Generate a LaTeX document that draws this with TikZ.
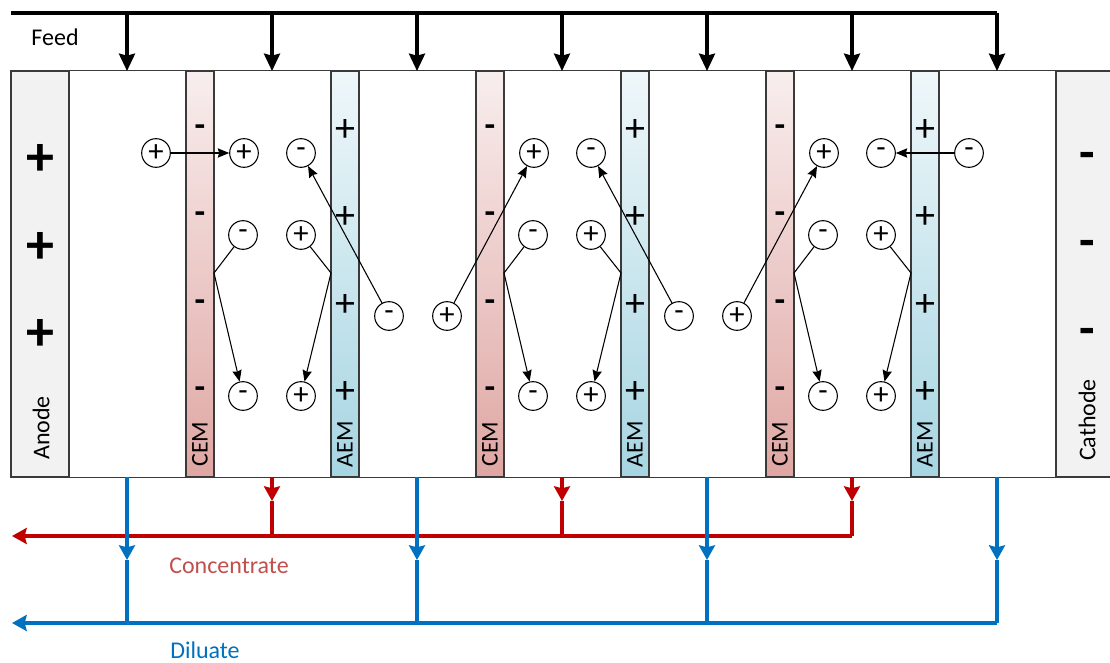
\documentclass[tikz,border=0pt]{standalone}
\usepackage{fontspec}
\setmainfont{Carlito}
\usetikzlibrary{arrows.meta}
\definecolor{redline}{HTML}{C00000}
\definecolor{redtext}{HTML}{C0504D}
\definecolor{blueline}{HTML}{0070C0}
\definecolor{boxline}{HTML}{3A3A3A}
\definecolor{electrode}{HTML}{F2F2F2}
\definecolor{cemtop}{HTML}{F8EEEE}
\definecolor{cembot}{HTML}{DFA6A2}
\definecolor{aemtop}{HTML}{EFF7FA}
\definecolor{aembot}{HTML}{A6D5E2}
\begin{document}
\begin{tikzpicture}[x=0.75pt,y=-0.75pt,
  lbl/.style={font=\fontsize{18}{20}\selectfont, inner sep=0pt},
  ion/.style={circle, draw=black, line width=0.8pt, minimum size=21.5pt, inner sep=0pt, font=\fontsize{23}{23}\selectfont},
  msign/.style={font=\fontsize{30}{30}\selectfont, inner sep=0pt},
  csign/.style={font=\fontsize{26}{26}\selectfont\bfseries, inner sep=0pt},
  esign/.style={font=\fontsize{42}{42}\selectfont\bfseries, inner sep=0pt},
  memb/.style={draw=boxline, line width=1pt, minimum width=21pt, minimum height=304.5pt, inner sep=0pt},
  cem/.style={memb, top color=cemtop, bottom color=cembot},
  aem/.style={memb, top color=aemtop, bottom color=aembot},
  move/.style={line width=0.8pt, -{Stealth[length=8.5pt,width=7pt,inset=1pt]}},
  feed/.style={line width=2.5pt, -{Stealth[length=13pt,width=12pt,inset=1.5pt]}},
  flow/.style={line width=2.4pt},
  flowtip/.style={flow, -{Stealth[length=11pt,width=12pt,inset=1.5pt]}}
]
\useasboundingbox (0,0) rectangle (1110,663);

% electrodes and stack outline
\node[draw=boxline, fill=electrode, line width=1pt, minimum width=43.5pt, minimum height=304.5pt, inner sep=0pt] (anode) at (40,274) {};
\node[draw=boxline, fill=electrode, line width=1pt, minimum width=45pt, minimum height=304.5pt, inner sep=0pt] (cathode) at (1086,274) {};
\draw[boxline, line width=1pt] (anode.north east) -- (cathode.north west);
\draw[boxline, line width=1pt] (anode.south east) -- (cathode.south west);

\node[lbl, rotate=90] (anodelbl) at (41,428) {Anode};
\node[lbl, rotate=90] (cathodelbl) at (1087,420) {Cathode};
\foreach \y [count=\i] in {160,248,335}{
  \node[esign] (ap\i) at (40,\y) {+};
}
\foreach \y [count=\i] in {161,249,337}{
  \node[esign, font=\fontsize{38}{38}\selectfont\bfseries] (cm\i) at (1087,\y) {-};
}

% membranes
\foreach \k in {0,1,2}{
  \pgfmathsetmacro{\o}{290*\k}
  \node[cem] (cem\k) at (200+\o,274) {};
  \node[aem] (aem\k) at (345+\o,274) {};
  \node[lbl, rotate=90] (cemlbl\k) at (200+\o,444) {CEM};
  \node[lbl, rotate=90] (aemlbl\k) at (345+\o,444) {AEM};
  \foreach \y [count=\j] in {131,218,306,393}{
    \node[csign] (cs\k\j) at (200+\o,\y) {-};
    \node[msign] (as\k\j) at (345+\o,\y) {+};
  }
  % ions in concentrate cells
  \node[ion] (pa\k) at (244+\o,153) {+};
  \node[ion] (na\k) at (301+\o,153) {-};
  \node[ion] (nb\k) at (243+\o,235) {-};
  \node[ion] (pb\k) at (301+\o,235) {+};
  \node[ion] (nc\k) at (243+\o,396) {-};
  \node[ion] (pc\k) at (301+\o,396) {+};
  \coordinate (rc\k) at (214+\o,273);
  \coordinate (ra\k) at (331+\o,273);
  \draw[move] (nb\k) -- (rc\k) -- (nc\k);
  \draw[move] (pb\k) -- (ra\k) -- (pc\k);
}
% ions in dilute cells
\node[ion] (p0) at (156,153) {+};
\node[ion] (nd0) at (389,316) {-};
\node[ion] (pd0) at (447,316) {+};
\node[ion] (nd1) at (679,316) {-};
\node[ion] (pd1) at (737,316) {+};
\node[ion] (n7) at (969,153) {-};

\draw[move] (p0) -- (pa0);
\draw[move] (nd0) -- (na0);
\draw[move] (pd0) -- (pa1);
\draw[move] (nd1) -- (na1);
\draw[move] (pd1) -- (pa2);
\draw[move] (n7) -- (na2);

% feed
\node[lbl] (feedlbl) at (55,37) {Feed};
\coordinate (feedL) at (11,13);
\coordinate (feedR) at (997,13);
\draw[line width=2.5pt] (feedL) -- (feedR);
\foreach \i in {0,...,6}{
  \coordinate (fa\i) at (127+145*\i,13);
  \coordinate (fb\i) at (127+145*\i,71);
  \draw[feed] (fa\i) -- (fb\i);
}

% concentrate
\coordinate (concL) at (12,536);
\coordinate (concR) at (852,536);
\draw[flowtip, redline] (concR) -- (concL);
\foreach \j in {0,1,2}{
  \coordinate (ct\j) at (272+290*\j,477);
  \coordinate (cm\j) at (272+290*\j,501);
  \coordinate (cb\j) at (272+290*\j,536);
  \draw[flowtip, redline] (ct\j) -- (cm\j);
  \draw[flow, redline] (cm\j) -- (cb\j);
}
\node[lbl, text=redtext] (conclbl) at (229,566) {Concentrate};

% diluate
\coordinate (dilL) at (12,623);
\coordinate (dilR) at (997,623);
\draw[flowtip, blueline] (dilR) -- (dilL);
\foreach \j in {0,1,2,3}{
  \coordinate (dt\j) at (127+290*\j,477);
  \coordinate (dm\j) at (127+290*\j,560);
  \coordinate (db\j) at (127+290*\j,623);
  \draw[flowtip, blueline] (dt\j) -- (dm\j);
  \draw[flow, blueline] (dm\j) -- (db\j);
}
\node[lbl, text=blueline] (dillbl) at (205,650) {Diluate};
\end{tikzpicture}
\end{document}
